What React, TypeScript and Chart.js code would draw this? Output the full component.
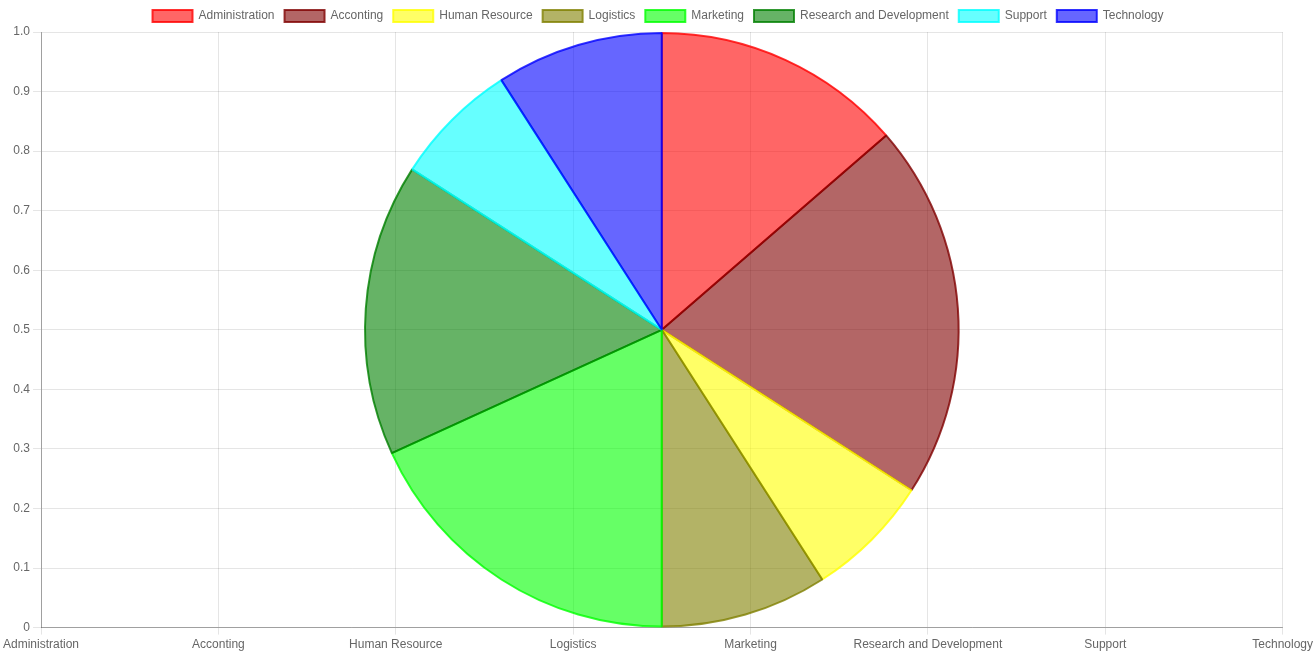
import React, { useEffect, useRef } from "react";
import { Chart, registerables } from "chart.js";

Chart.register(...registerables);

const categories = [
  "Administration",
  "Acconting",
  "Human Resource",
  "Logistics",
  "Marketing",
  "Research and Development",
  "Support",
  "Technology",
];
const values = [6, 9, 3, 4, 8, 7, 3, 4];
const fillColors = [
  "rgba(255,0,0,0.6)",
  "rgba(128,0,0,0.6)",
  "rgba(255,255,0,0.6)",
  "rgba(128,128,0,0.6)",
  "rgba(0,255,0,0.6)",
  "rgba(0,128,0,0.6)",
  "rgba(0,255,255,0.6)",
  "rgba(0,0,255,0.6)",
];
const lineColors = [
  "rgba(255,0,0,0.8)",
  "rgba(128,0,0,0.8)",
  "rgba(255,255,0,0.8)",
  "rgba(128,128,0,0.8)",
  "rgba(0,255,0,0.8)",
  "rgba(0,128,0,0.8)",
  "rgba(0,255,255,0.8)",
  "rgba(0,0,255,0.8)",
];

export default function App() {
  const ref = useRef<HTMLCanvasElement | null>(null);
  useEffect(() => {
    document.body.style.margin = "0";
    const font = { family: "'Helvetica Neue', Helvetica, Arial, sans-serif", size: 12 };
    const chart = new Chart(ref.current as HTMLCanvasElement, {
      type: "pie",
      data: {
        labels: categories,
        datasets: [
          {
            data: values,
            backgroundColor: fillColors,
            borderColor: lineColors,
            borderWidth: 2,
          },
        ],
      },
      options: {
        animation: false,
        responsive: false,
        maintainAspectRatio: false,
        layout: { padding: { bottom: 3 } },
        plugins: {
          legend: {
            display: true,
            position: "top",
            labels: { color: "#666", font },
          },
          tooltip: { enabled: false },
        },
        scales: {
          x: {
            type: "category",
            display: true,
            offset: false,
            grid: { color: "rgba(0,0,0,0.1)", tickLength: 7 },
            border: { color: "rgba(0,0,0,0.3)" },
            ticks: { color: "#666", font, maxRotation: 0, autoSkip: false },
          },
          y: {
            type: "linear",
            display: true,
            min: 0,
            max: 1,
            grid: { color: "rgba(0,0,0,0.1)" },
            border: { color: "rgba(0,0,0,0.3)" },
            ticks: { color: "#666", font, stepSize: 0.1 },
          },
        },
      } as any,
    });
    return () => chart.destroy();
  }, []);
  return <canvas ref={ref} width={1316} height={658} style={{ display: "block" }} />;
}
